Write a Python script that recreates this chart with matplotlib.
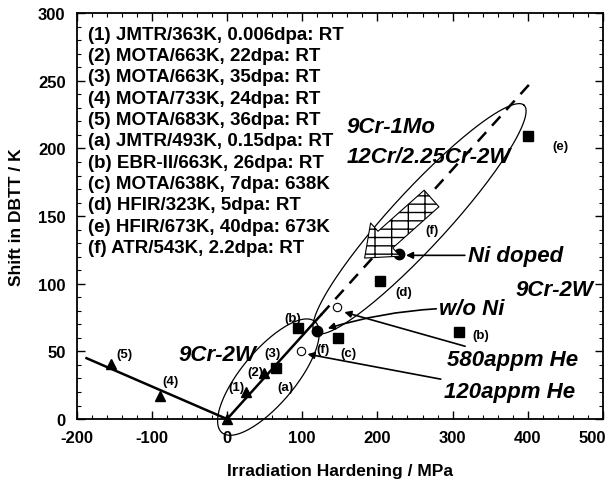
import matplotlib.pyplot as plt
import numpy as np
from matplotlib.ticker import MultipleLocator
from matplotlib.transforms import ScaledTranslation

plt.rcParams['font.family'] = ['Liberation Sans', 'DejaVu Sans']
plt.rcParams['font.weight'] = 'bold'
plt.rcParams['axes.unicode_minus'] = False

# triangles: (1)-(5) 9Cr-2W
tri_x = [0, 25, 49, -89, -155]
tri_y = [0, 20, 34, 17, 41]
# filled squares
sq_x = [65, 95, 148, 203, 308, 401]
sq_y = [38, 67, 60, 102, 64, 209]
# filled circles (f)
fc_x = [120, 229]
fc_y = [65, 122]
# open circles (He)
oc_x = [99, 146]
oc_y = [50, 83]

# trend lines
neg_x = [-187, 0]
neg_y = [45, 0]
pos_x = [0, 125]
pos_y = [0, 77]
dash_x = [125, 408]
dash_y = [77, 251]

# ellipses: center, half major vector, half minor vector (data units)
small_ell = dict(c=(55, 31), a=(62, 41), b=(27, -13))
big_ell = dict(c=(256, 148), a=(139, 84), b=(28, -14))

legend_lines = [
    "(1) JMTR/363K, 0.006dpa: RT",
    "(2) MOTA/663K, 22dpa: RT",
    "(3) MOTA/663K, 35dpa: RT",
    "(4) MOTA/733K, 24dpa: RT",
    "(5) MOTA/683K, 36dpa: RT",
    "(a) JMTR/493K, 0.15dpa: RT",
    "(b) EBR-II/663K, 26dpa: RT",
    "(c) MOTA/638K, 7dpa: 638K",
    "(d) HFIR/323K, 5dpa: RT",
    "(e) HFIR/673K, 40dpa: 673K",
    "(f) ATR/543K, 2.2dpa: RT",
]

# point labels
pt_labels = ["(5)", "(4)", "(1)", "(2)", "(3)", "(a)", "(b)", "(f)", "(c)", "(d)", "(b)", "(e)", "(f)"]
pt_lx = [-136, -75, 13, 38, 60, 78, 87, 127, 161, 235, 337, 443, 272]
pt_ly = [48, 28, 24, 35, 49, 24, 75, 52, 49, 94, 62, 202, 140]

fig = plt.figure(figsize=(6.09, 4.89), dpi=100)
ax = fig.add_axes([0.126, 0.141, 0.864, 0.830])

ax.plot(neg_x, neg_y, color='black', lw=1.8)
ax.plot(pos_x, pos_y, color='black', lw=1.8)
ax.plot(dash_x, dash_y, color='black', lw=1.8, ls=(0, (5, 3.5)))

t = np.linspace(0, 2 * np.pi, 200)
for e in (small_ell, big_ell):
    ex = e['c'][0] + e['a'][0] * np.cos(t) + e['b'][0] * np.sin(t)
    ey = e['c'][1] + e['a'][1] * np.cos(t) + e['b'][1] * np.sin(t)
    ax.plot(ex, ey, color='black', lw=0.9, clip_on=False)

ax.plot(tri_x, tri_y, '^', color='black', ms=6.5, ls='none', clip_on=False)
ax.plot(sq_x, sq_y, 's', color='black', ms=6.5, ls='none')
ax.plot(fc_x, fc_y, 'o', color='black', ms=7.5, ls='none')
ax.plot(oc_x, oc_y, 'o', mfc='white', mec='black', mew=0.8, ms=6, ls='none')

# hatched block arrow
ax.annotate('', xy=(183, 119), xytext=(272, 163),
            arrowprops=dict(arrowstyle='simple,head_length=1.0,head_width=1.6,tail_width=0.8',
                            fc='white', ec='black', lw=0.8, hatch='-+', mutation_scale=20,
                            shrinkA=0, shrinkB=0))

for s, lx, ly in zip(pt_labels, pt_lx, pt_ly):
    ax.text(lx, ly, s, fontsize=9.5, fontweight='bold', ha='center', va='center')

for i, s in enumerate(legend_lines):
    ax.text(0.021, 0.948 - i * 0.0525, s, transform=ax.transAxes,
            fontsize=13.5, fontweight='bold', ha='left', va='center')

big = dict(fontsize=16, fontweight='bold', fontstyle='italic')
ax.text(159, 216, "9Cr-1Mo", ha='left', va='center', **big)
ax.text(159, 194, "12Cr/2.25Cr-2W", ha='left', va='center', **big)
ax.text(-64, 48, "9Cr-2W", ha='left', va='center', **big)
ax.text(487, 96, "9Cr-2W", ha='right', va='center', **big)

arr = dict(arrowstyle='-|>', color='black', lw=1.2, mutation_scale=10, shrinkA=0, shrinkB=0)
ax.annotate("Ni doped", xy=(238, 121), xytext=(320, 121), ha='left', va='center',
            arrowprops=arr, **big)
ax.annotate("w/o Ni", xy=(134, 67), xytext=(282, 82), ha='left', va='center',
            arrowprops=dict(arr, connectionstyle='arc3,rad=0.08'), **big)
ax.annotate("580appm He", xy=(156, 79), xytext=(292, 44), ha='left', va='center',
            arrowprops=arr, **big)
ax.annotate("120appm He", xy=(107, 48), xytext=(288, 20), ha='left', va='center',
            arrowprops=arr, **big)

ax.set_xlim(-200, 500)
ax.set_ylim(0, 300)
ax.xaxis.set_major_locator(MultipleLocator(100))
ax.xaxis.set_minor_locator(MultipleLocator(20))
ax.yaxis.set_major_locator(MultipleLocator(50))
ax.yaxis.set_minor_locator(MultipleLocator(10))
ax.tick_params(which='both', direction='in', top=True, right=True)
ax.tick_params(which='major', length=6, width=1.0, labelsize=12, pad=8)
ax.tick_params(which='minor', length=3, width=0.8)
for sp in ax.spines.values():
    sp.set_linewidth(1.3)

ax.set_xlabel("Irradiation Hardening / MPa", fontsize=12.5, fontweight='bold', labelpad=13)
ax.set_ylabel("Shift in DBTT / K", fontsize=12.5, fontweight='bold', labelpad=10)

fig.canvas.draw()
for lbl in ax.get_xticklabels():
    if lbl.get_text() == '500':
        lbl.set_transform(lbl.get_transform() + ScaledTranslation(-8 / 72, 0, fig.dpi_scale_trans))

fig.savefig('out.png', dpi=100)
